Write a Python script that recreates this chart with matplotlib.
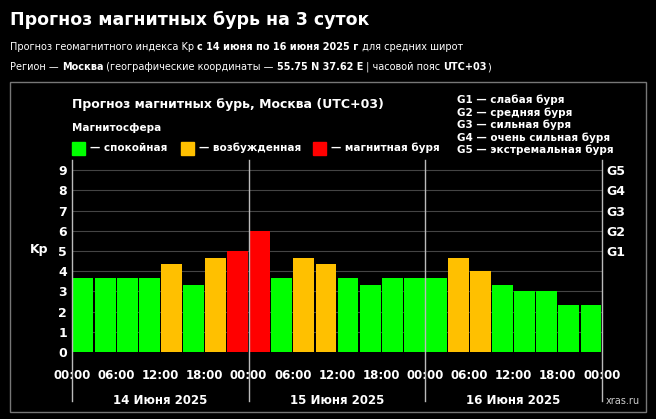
import matplotlib
matplotlib.use("Agg")
import matplotlib.pyplot as plt

values = [3.67,3.67,3.67,3.67,4.33,3.33,4.67,5.0,
          6.0,3.67,4.67,4.33,3.67,3.33,3.67,3.67,
          3.67,4.67,4.0,3.33,3.0,3.0,2.33,2.33]
time_labels = ["00:00","06:00","12:00","18:00"]
days = ["14 Июня 2025","15 Июня 2025","16 Июня 2025"]
g_labels = ["G1","G2","G3","G4","G5"]

def col(v):
    if v >= 5: return "#ff0000"
    if v >= 4: return "#ffc000"
    return "#00ff00"

W, H = 656, 419
fig = plt.figure(figsize=(W/100, H/100), dpi=100, facecolor="black")
def fx(x): return x/W
def fy(y): return 1-y/H
renderer = fig.canvas.get_renderer()

def chain(x, y, parts, fs=7):
    for s, bold in parts:
        t = fig.text(fx(x), fy(y), s, color="white", fontsize=fs,
                     fontweight="bold" if bold else "normal", va="center")
        bb = t.get_window_extent(renderer=renderer)
        x += bb.width

fig.text(fx(10), fy(20), "Прогноз магнитных бурь на 3 суток", color="white", fontsize=12.5, fontweight="bold", va="center")
chain(10, 47, [("Прогноз геомагнитного индекса Kp ", False), ("с 14 июня по 16 июня 2025 г", True), (" для средних широт", False)])
chain(10, 67, [("Регион — ", False), ("Москва", True), (" (географические координаты — ", False),
               ("55.75 N 37.62 E", True), (" | часовой пояс ", False), ("UTC+03", True), (")", False)])

box = plt.Rectangle((fx(10), fy(412)), fx(636), fy(82)-fy(412), transform=fig.transFigure,
                    fill=False, edgecolor="#777777", lw=1)
fig.patches.append(box)

fig.text(fx(72), fy(104), "Прогноз магнитных бурь, Москва (UTC+03)", color="white", fontsize=9, fontweight="bold", va="center")
fig.text(fx(72), fy(128), "Магнитосфера", color="white", fontsize=7.5, fontweight="bold", va="center")
for x0, c, lab in [(72, "#00ff00", "— спокойная"), (181, "#ffc000", "— возбужденная"), (313, "#ff0000", "— магнитная буря")]:
    fig.patches.append(plt.Rectangle((fx(x0), fy(155)), fx(13), fy(142)-fy(155), transform=fig.transFigure, color=c))
    fig.text(fx(x0+18), fy(148), lab, color="white", fontsize=7.5, fontweight="bold", va="center")
for i, s in enumerate(["G1 — слабая буря","G2 — средняя буря","G3 — сильная буря","G4 — очень сильная буря","G5 — экстремальная буря"]):
    fig.text(fx(457), fy(100+i*12.5), s, color="white", fontsize=7.5, fontweight="bold", va="center")

ax = fig.add_axes([fx(72), fy(352), fx(602)-fx(72), fy(160)-fy(352)])
ax.set_facecolor("black")
ax.set_xlim(0, 24)
ax.set_ylim(0, 9.5)
for y in range(1, 10):
    ax.axhline(y, color="#444444", lw=0.8, zorder=0)
ax.bar([i+0.5 for i in range(24)], values, width=0.94, color=[col(v) for v in values], zorder=2)
for s in ax.spines.values():
    s.set_visible(False)
ax.set_yticks(range(0, 10))
ax.tick_params(axis="y", colors="white", labelsize=9, length=0)
for lbl in ax.get_yticklabels():
    lbl.set_fontweight("bold")
ax.set_ylabel("Kp", color="white", fontsize=9, fontweight="bold", rotation=0, labelpad=14)
ax.set_xticks(range(0, 25, 2))
ax.set_xticklabels([time_labels[k % 4] for k in range(13)])
ax.tick_params(axis="x", colors="white", labelsize=8.5, length=0, pad=12)
for lbl in ax.get_xticklabels():
    lbl.set_fontweight("bold")
for d in [0, 8, 16, 24]:
    ax.plot([d, d], [9.5, -2.4], color="#bbbbbb", lw=1, clip_on=False, zorder=3)
for i, d in enumerate(days):
    ax.text(4 + 8*i, -2.4, d, color="white", fontsize=8.5, fontweight="bold", ha="center", va="center")
ax2 = ax.twinx()
ax2.set_ylim(0, 9.5)
ax2.set_yticks([5, 6, 7, 8, 9])
ax2.set_yticklabels(g_labels)
ax2.tick_params(axis="y", colors="white", labelsize=9, length=0)
for lbl in ax2.get_yticklabels():
    lbl.set_fontweight("bold")
for s in ax2.spines.values():
    s.set_visible(False)

fig.text(fx(640), fy(401), "xras.ru", color="#cccccc", fontsize=7, ha="right", va="center")
fig.savefig("out.png", dpi=100, facecolor="black")
